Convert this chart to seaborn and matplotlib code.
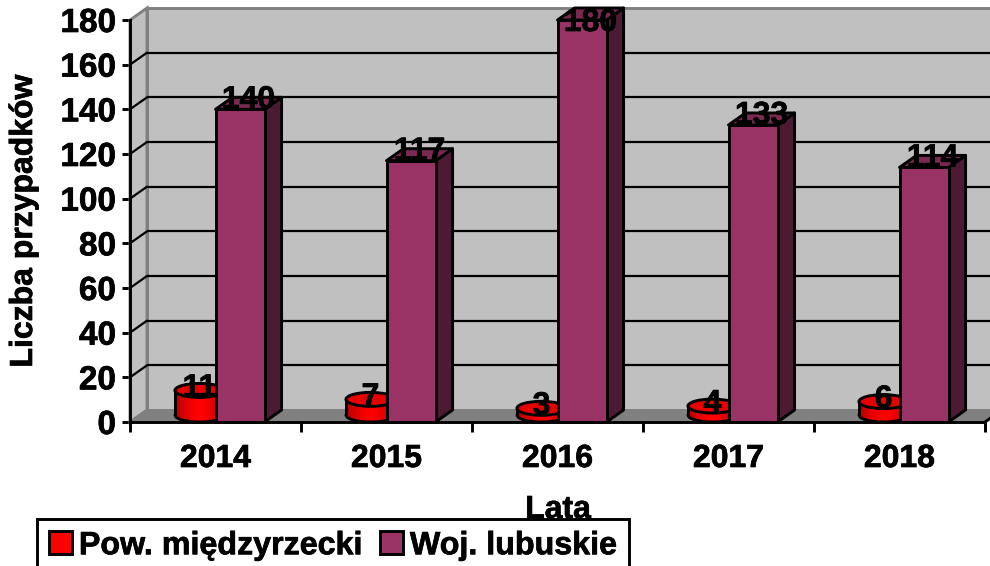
import numpy as np
import pandas as pd
import matplotlib
matplotlib.use('Agg')
import matplotlib.pyplot as plt
import matplotlib.patheffects as pe
import seaborn as sns
from matplotlib.patches import Ellipse, Patch, Polygon, Rectangle
from matplotlib.text import Text
from matplotlib.transforms import Affine2D, IdentityTransform

# Dane
years = ['2014', '2015', '2016', '2017', '2018']
powiat = [11, 7, 3, 4, 6]
woj = [140, 117, 180, 133, 114]
series_names = ['Pow. międzyrzecki', 'Woj. lubuskie']
y_ticks = list(range(0, 181, 20))

RED = '#FF0000'
PURPLE = '#993366'
PURPLE_DARK = '#4D1A33'
WALL = '#C0C0C0'
FLOOR = '#808080'
DX, DY = 17, 12  # glebokosc w pikselach
LW = 2.1

df = pd.DataFrame({
    'rok': years * 2,
    'n': powiat + woj,
    'seria': [series_names[0]] * 5 + [series_names[1]] * 5,
})

sns.set_theme(style='white')
plt.rcParams['font.family'] = ['Liberation Sans', 'DejaVu Sans']
plt.rcParams['font.weight'] = 'bold'
plt.rcParams['text.color'] = 'black'
plt.rcParams['ytick.color'] = 'black'
plt.rcParams['xtick.color'] = 'black'

fig = plt.figure(figsize=(9.9, 5.66), dpi=100)
ax = fig.add_axes([130 / 990, (566 - 422) / 566, 855 / 990, 402 / 566])
sns.barplot(data=df, x='rok', y='n', hue='seria', ax=ax, width=0.574, gap=0,
            palette=[RED, PURPLE], saturation=1, edgecolor='black',
            linewidth=LW, legend=False, zorder=5, clip_on=False)
ax.set_xlim(-0.5, 4.5)
ax.set_ylim(0, 180)
ax.patch.set_visible(False)
for s in ['top', 'right']:
    ax.spines[s].set_visible(False)
for s in ['left', 'bottom']:
    ax.spines[s].set_linewidth(LW)
    ax.spines[s].set_color('black')
    ax.spines[s].set_zorder(4)

display = IdentityTransform()
back = ax.transData + Affine2D().translate(DX, DY)


def disp(x, y):
    return ax.transData.transform((x, y))


# Sciany i podloga
x0, y0 = disp(-0.5, 0)
x1, y1 = disp(4.5, 180)
ax.add_patch(Rectangle((x0 + DX, y0 + DY), x1 - x0 + 20, y1 - y0, transform=display,
                       facecolor=WALL, edgecolor=FLOOR, lw=LW, zorder=1, clip_on=False))
ax.add_patch(Polygon([(x0, y0), (x0 + DX, y0 + DY), (x0 + DX, y1 + DY), (x0, y1)],
                     transform=display, facecolor=WALL, edgecolor=FLOOR, lw=LW,
                     zorder=1, clip_on=False))
ax.add_patch(Polygon([(x0, y0), (x0 + DX, y0 + DY), (x1 + DX, y0 + DY), (x1, y0)],
                     transform=display, facecolor=FLOOR, edgecolor=FLOOR, lw=1,
                     zorder=2, clip_on=False))
ax.plot([x1, x1 + DX], [y0, y0 + DY], transform=display, color='black', lw=LW,
        zorder=3, clip_on=False)

# Linie siatki
ax.hlines(y_ticks[1:-1], -0.5, 4.6, transform=back, color='black', lw=1.6,
          zorder=2, clip_on=False)
for t in y_ticks[1:-1]:
    xt, yt = disp(-0.5, t)
    ax.plot([xt, xt + DX], [yt, yt + DY], transform=display, color='black',
            lw=1.6, zorder=2, clip_on=False)

bars = list(ax.patches[:10])
red_bars = [b for b in bars if matplotlib.colors.to_hex(b.get_facecolor()) == RED.lower()]
purple_bars = [b for b in bars if b not in red_bars]

# Slupki fioletowe - boki
for b, v in zip(purple_bars, woj):
    xa, ya = disp(b.get_x(), 0)
    xb, yb = disp(b.get_x() + b.get_width(), v)
    ax.add_patch(Polygon([(xb, ya), (xb + DX, ya + DY), (xb + DX, yb + DY), (xb, yb)],
                         transform=display, facecolor=PURPLE_DARK, edgecolor='black',
                         lw=LW, zorder=4.5, clip_on=False, joinstyle='round'))
    ax.add_patch(Polygon([(xa, yb), (xa + DX, yb + DY), (xb + DX, yb + DY), (xb, yb)],
                         transform=display, facecolor='#7A2952', edgecolor='black',
                         lw=LW, zorder=4.5, clip_on=False, joinstyle='round'))

# Walce czerwone
ELL = 14
for b, v in zip(red_bars, powiat):
    b.set_visible(False)
    xa, ya = disp(b.get_x(), 0)
    xb, yb = disp(b.get_x() + b.get_width(), v)
    xa, xb = xa + DX / 2, xb + DX / 2
    yc0, yc1 = ya + ELL / 2, yb + ELL / 2
    w = xb - xa
    xs = np.arange(xa, xb + 1)
    t = (xs - (xa + xb) / 2) / (w / 2)
    t = np.clip(t, -1, 1)
    low = yc0 - ELL / 2 * np.sqrt(1 - t ** 2)
    shade = 1 - 0.3 * np.abs(t) ** 1.5
    colors = [(s, 0, 0) for s in shade]
    ax.vlines(xs, low, yc1, colors=colors, lw=0.8, transform=display, zorder=3.2,
              clip_on=False)
    ax.plot(xs, low, color='black', lw=LW, transform=display, zorder=3.3, clip_on=False)
    ax.plot([xa, xa], [yc0, yc1], color='black', lw=LW, transform=display, zorder=3.3,
            clip_on=False)
    ax.add_patch(Ellipse(((xa + xb) / 2, yc1), w, ELL, transform=display, facecolor='#E60000',
                         edgecolor='black', lw=LW, zorder=3.4, clip_on=False))

# Etykiety wartosci
for bar_list, vals in [(red_bars, powiat), (purple_bars, woj)]:
    for b, v in zip(bar_list, vals):
        xm, ym = disp(b.get_x() + b.get_width() / 2, v)
        yl = ym + DY / 2 + 3
        if v == 180:
            yl = disp(0, 180)[1] - 3
        ax.text(xm + DX / 2, yl, str(v), transform=display, ha='center', va='center',
                fontsize=23, fontweight='bold', color='black', zorder=8, clip_on=False)

# Osie
ax.set_yticks(y_ticks)
ax.set_xticks(np.arange(-0.5, 5, 1), minor=False)
ax.set_xticklabels([])
ax.tick_params(axis='y', length=6, width=LW, color='black', labelsize=24, pad=4, left=True)
ax.tick_params(axis='x', length=7, width=LW, color='black', bottom=True)
for lab in ax.get_yticklabels():
    lab.set_fontweight('bold')
for i, y in enumerate(years):
    ax.annotate(y, (i, 0), xytext=(0, -37), textcoords='offset pixels', ha='center',
                va='center', fontsize=23, fontweight='bold', color='black',
                annotation_clip=False)
ax.set_xlabel('')
ax.set_ylabel('')
fig.text(24 / 990, 1 - 221 / 566, 'Liczba przypadków', rotation=90, ha='center',
         va='center', fontsize=23, fontweight='bold', color='black')
fig.text(558 / 990, 1 - 510 / 566, 'Lata', ha='center', va='center', fontsize=23,
         fontweight='bold', color='black')

# Legenda
handles = [Patch(facecolor=RED, edgecolor='black', lw=LW),
           Patch(facecolor=PURPLE, edgecolor='black', lw=LW)]
leg = fig.legend(handles, series_names, ncol=2, loc='upper left',
                 bbox_to_anchor=(37 / 990, 1 - 519 / 566), frameon=True, fancybox=False,
                 edgecolor='black', facecolor='white', framealpha=1, fontsize=23.2,
                 handlelength=0.72, handleheight=0.72, handletextpad=0.2,
                 columnspacing=0.55, borderaxespad=0, borderpad=0.38)
leg.get_frame().set_linewidth(LW)
leg.set_zorder(20)
for txt in leg.get_texts():
    txt.set_fontweight('bold')

# tekst w oryginale jest nieco grubszy
for tx in fig.findobj(Text):
    tx.set_path_effects([pe.withStroke(linewidth=0.5, foreground='black')])

fig.savefig('out.png', dpi=100)
